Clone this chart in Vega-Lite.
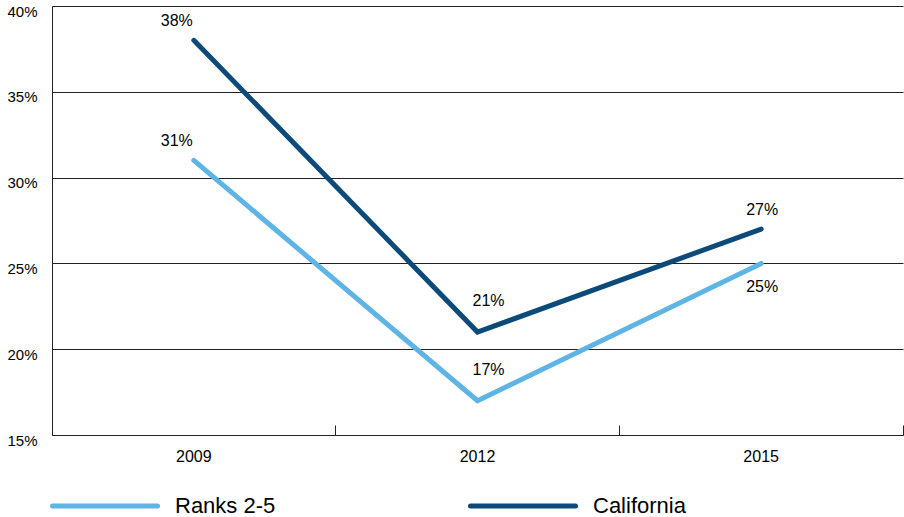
{
  "$schema": "https://vega.github.io/schema/vega-lite/v6.json",
  "width": 851,
  "height": 429,
  "autosize": {"type": "none"},
  "padding": {"left": 52, "top": 6, "right": 1, "bottom": 82},
  "config": {
    "view": {"stroke": null},
    "font": "Liberation Sans"
  },
  "data": {
    "values": [
      {"year": "2009", "series": "Ranks 2-5", "value": 0.31},
      {"year": "2012", "series": "Ranks 2-5", "value": 0.17},
      {"year": "2015", "series": "Ranks 2-5", "value": 0.25},
      {"year": "2009", "series": "California", "value": 0.38},
      {"year": "2012", "series": "California", "value": 0.21},
      {"year": "2015", "series": "California", "value": 0.27}
    ]
  },
  "encoding": {
    "x": {
      "field": "year",
      "type": "ordinal",
      "scale": {"type": "band", "paddingInner": 0, "paddingOuter": 0},
      "axis": {
        "title": null,
        "labelAngle": 0,
        "labelFontSize": 16,
        "labelColor": "#000",
        "domainColor": "#222",
        "tickColor": "#222",
        "bandPosition": 1,
        "tickSize": -10,
        "labelPadding": 23,
        "grid": false
      }
    },
    "y": {
      "field": "value",
      "type": "quantitative",
      "scale": {"domain": [0.15, 0.4], "nice": false},
      "axis": {
        "title": null,
        "values": [0.15, 0.2, 0.25, 0.3, 0.35, 0.4],
        "format": ".0%",
        "labelFontSize": 15,
        "labelColor": "#000",
        "labelPadding": 15,
        "labelOffset": 5,
        "ticks": false,
        "domainColor": "#222",
        "gridColor": "#222",
        "gridOpacity": 1
      }
    }
  },
  "layer": [
    {
      "mark": {"type": "line", "strokeWidth": 5, "strokeCap": "round", "strokeJoin": "miter"},
      "encoding": {
        "color": {
          "field": "series",
          "type": "nominal",
          "scale": {"domain": ["Ranks 2-5", "California"], "range": ["#5eb4e5", "#0c4a7a"]},
          "legend": {
            "title": null,
            "orient": "none",
            "direction": "horizontal",
            "legendX": -2,
            "legendY": 445,
            "padding": 0,
            "symbolType": "stroke",
            "symbolSize": 11025,
            "symbolStrokeWidth": 5,
            "labelFontSize": 22,
            "labelColor": "#000",
            "labelOffset": 15,
            "columnPadding": 184,
            "encode": {"symbols": {"update": {"strokeCap": {"value": "round"}}}}
          }
        }
      }
    },
    {
      "transform": [{"filter": "datum.year == '2009'"}],
      "mark": {"type": "text", "fontSize": 16, "dx": -17, "dy": -19, "color": "#000"},
      "encoding": {"text": {"field": "value", "type": "quantitative", "format": ".0%"}}
    },
    {
      "transform": [{"filter": "datum.year == '2012'"}],
      "mark": {"type": "text", "fontSize": 16, "dx": 11, "dy": -31, "color": "#000"},
      "encoding": {"text": {"field": "value", "type": "quantitative", "format": ".0%"}}
    },
    {
      "transform": [{"filter": "datum.year == '2015' && datum.series == 'California'"}],
      "mark": {"type": "text", "fontSize": 16, "dx": 1, "dy": -19, "color": "#000"},
      "encoding": {"text": {"field": "value", "type": "quantitative", "format": ".0%"}}
    },
    {
      "transform": [{"filter": "datum.year == '2015' && datum.series == 'Ranks 2-5'"}],
      "mark": {"type": "text", "fontSize": 16, "dx": 1, "dy": 24, "color": "#000"},
      "encoding": {"text": {"field": "value", "type": "quantitative", "format": ".0%"}}
    }
  ]
}
